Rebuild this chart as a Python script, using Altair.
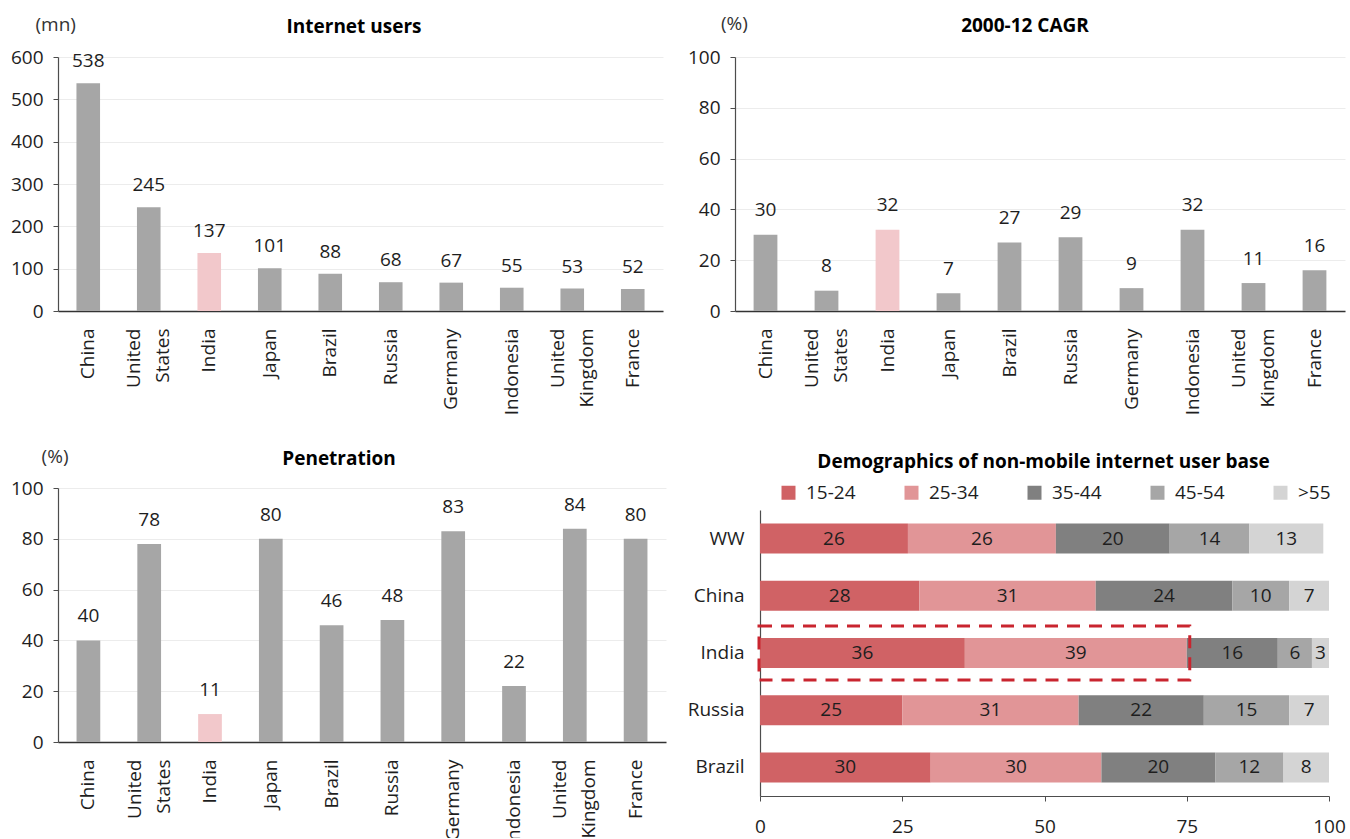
import altair as alt
import pandas as pd

# --- country comparison data -------------------------------------------------
countries = ["China", "United States", "India", "Japan", "Brazil", "Russia",
             "Germany", "Indonesia", "United Kingdom", "France"]
users_mn = [538, 245, 137, 101, 88, 68, 67, 55, 53, 52]
cagr_pct = [30, 8, 32, 7, 27, 29, 9, 32, 11, 16]
penetration_pct = [40, 78, 11, 80, 46, 48, 83, 22, 84, 80]
highlight = "India"

users_ticks = [0, 100, 200, 300, 400, 500, 600]
pct_ticks = [0, 20, 40, 60, 80, 100]

# --- age split of the non-mobile internet user base (%) ---------------------
regions = ["WW", "China", "India", "Russia", "Brazil"]
age_groups = ["15-24", "25-34", "35-44", "45-54", ">55"]
share_15_24 = [26, 28, 36, 25, 30]
share_25_34 = [26, 31, 39, 31, 30]
share_35_44 = [20, 24, 16, 22, 20]
share_45_54 = [14, 10, 6, 15, 12]
share_55_up = [13, 7, 3, 7, 8]
share_ticks = [0, 25, 50, 75, 100]

FONT = "Open Sans"
TEXT = "#1e1e1e"
GREY = "#a6a6a6"
PINK = "#f2c8cb"
AXIS = "#4d4d4d"
AGE_COLORS = ["#d06265", "#e19597", "#808080", "#a6a6a6", "#d4d4d4"]
BOX_RED = "#c9252f"


def caption(text, x, y, bold=True, align="center", color="#000000"):
    return alt.Chart(pd.DataFrame({"t": [text]})).mark_text(
        fontSize=19, fontWeight="bold" if bold else "normal", align=align,
        baseline="alphabetic", color=color, font=FONT,
    ).encode(text="t:N", x=alt.value(x), y=alt.value(y))


def country_panel(values, field, domain, ticks, title, unit, width,
                  title_x, title_y, unit_x, unit_y, label_dy):
    df = pd.DataFrame({"country": countries, field: values})
    x = alt.X(
        "country:N", sort=countries,
        scale=alt.Scale(paddingInner=0.61, paddingOuter=0.305),
        axis=alt.Axis(title=None, labelAngle=270,
                      labelExpr="split(datum.label, ' ')",
                      # two-word names wrap onto two lines: centre the pair
                      labelOffset=alt.condition("indexof(datum.value, ' ') >= 0",
                                                alt.value(-14.5), alt.value(0)),
                      labelLineHeight=29, labelPadding=17, ticks=False,
                      tickSize=0, labelOverlap=False, domainColor="#333333",
                      domainWidth=1.5, labelFontSize=19, labelColor=TEXT),
    )
    y = alt.Y(
        f"{field}:Q",
        scale=alt.Scale(domain=domain, nice=False),
        axis=alt.Axis(title=None, values=ticks, grid=True, gridColor="#ececec",
                      gridWidth=1, tickSize=5, tickColor=AXIS, domainColor=AXIS,
                      domainWidth=1.2, labelPadding=10, labelFontSize=19,
                      labelColor=TEXT),
    )
    base = alt.Chart(df)
    bars = base.mark_bar().encode(
        x=x, y=y,
        color=alt.condition(alt.datum.country == highlight,
                            alt.value(PINK), alt.value(GREY)),
    )
    labels = base.mark_text(
        baseline="alphabetic", dy=label_dy, fontSize=19, color=TEXT, font=FONT
    ).encode(x=alt.X("country:N", sort=countries), y=alt.Y(f"{field}:Q"),
             text=alt.Text(f"{field}:Q"))
    return alt.layer(
        bars, labels,
        caption(title, title_x, title_y),
        caption(unit, unit_x, unit_y, bold=False, align="left", color="#333333"),
    ).properties(width=width, height=254)


p_users = country_panel(users_mn, "users", [0, 600], users_ticks,
                        "Internet users", "(mn)", 605,
                        296, -24.5, -22.5, -26.5, -16)
p_cagr = country_panel(cagr_pct, "cagr", [0, 100], pct_ticks,
                       "2000-12 CAGR", "(%)", 610,
                       290, -25.5, -14, -27.5, -18.5)
p_pen = country_panel(penetration_pct, "penetration", [0, 100], pct_ticks,
                      "Penetration", "(%)", 608,
                      281, -22.7, -16.4, -24.7, -18)

# --- stacked age demographics -------------------------------------------------
series = [share_15_24, share_25_34, share_35_44, share_45_54, share_55_up]
rows = []
for r_i, region in enumerate(regions):
    for a_i, age in enumerate(age_groups):
        rows.append({"region": region, "age": age, "rank": a_i,
                     "share": series[a_i][r_i]})
demo = pd.DataFrame(rows)

# the panel shares its left edge with the CAGR panel above; the value axis
# starts 25px further in
DEMO_W = 594
DEMO_X0 = 25

y_demo = alt.Y(
    "region:N", sort=regions,
    scale=alt.Scale(paddingInner=0.475, paddingOuter=0.2375),
    axis=alt.Axis(title=None, ticks=False, tickSize=0, labelPadding=16,
                  offset=-DEMO_X0, domainColor=AXIS, domainWidth=1.2,
                  labelFontSize=19, labelColor=TEXT),
)
x_demo = alt.X(
    "share:Q", stack="zero",
    scale=alt.Scale(domain=[0, 100], nice=False, range=[DEMO_X0, DEMO_W]),
    axis=alt.Axis(title=None, values=share_ticks, grid=False, tickSize=5,
                  tickColor=AXIS, domainColor=AXIS, domainWidth=1.2,
                  labelFlush=False, labelPadding=16, labelFontSize=19,
                  labelColor=TEXT),
)

demo_bars = alt.Chart(demo).mark_bar().encode(
    y=y_demo, x=x_demo,
    color=alt.Color(
        "age:N", sort=age_groups,
        scale=alt.Scale(domain=age_groups, range=AGE_COLORS),
        legend=alt.Legend(title=None, orient="none", legendX=44, legendY=-27,
                          direction="horizontal", symbolType="square",
                          symbolSize=196, symbolStrokeWidth=0, symbolOpacity=1,
                          labelFontSize=19, labelColor=TEXT, labelOffset=8,
                          gridAlign="all", columnPadding=46),
    ),
    order=alt.Order("rank:Q"),
)

demo_labels = alt.Chart(demo).transform_stack(
    stack="share", groupby=["region"], as_=["s0", "s1"],
    sort=[alt.SortField("rank", order="ascending")],
).transform_calculate(
    mid="(datum.s0 + datum.s1) / 2"
).mark_text(fontSize=19, color=TEXT, baseline="middle", font=FONT).encode(
    y=alt.Y("region:N", sort=regions),
    x=alt.X("mid:Q"),
    text=alt.Text("share:Q"),
)

# dashed frame round the under-35 share of the highlighted country
h_i = regions.index(highlight)
frame_df = pd.DataFrame({"region": [highlight], "start": [0],
                         "end": [share_15_24[h_i] + share_25_34[h_i]]})
frame = alt.Chart(frame_df).mark_bar(
    filled=False, stroke=BOX_RED, strokeWidth=3, strokeDash=[13, 9],
    height=54, xOffset=-1, x2Offset=3,
).encode(y=alt.Y("region:N", sort=regions), x="start:Q", x2="end:Q")

p_demo = alt.layer(
    demo_bars, demo_labels, frame,
    caption("Demographics of non-mobile internet user base", 308.5, -42),
).properties(width=DEMO_W, height=286)

left_col = alt.vconcat(p_users, p_pen, spacing=33)
right_col = alt.vconcat(p_cagr, p_demo, spacing=38).resolve_legend(
    color="independent")

chart = alt.hconcat(left_col, right_col, spacing=21).resolve_legend(
    color="independent"
).properties(
    padding={"left": 10, "top": 14, "right": 0, "bottom": -8}
).configure_view(stroke=None).configure_axis(
    labelFont=FONT
).configure_legend(labelFont=FONT).configure_text(font=FONT)

chart.save("out.html", embed_options={"renderer": "svg", "actions": False})
